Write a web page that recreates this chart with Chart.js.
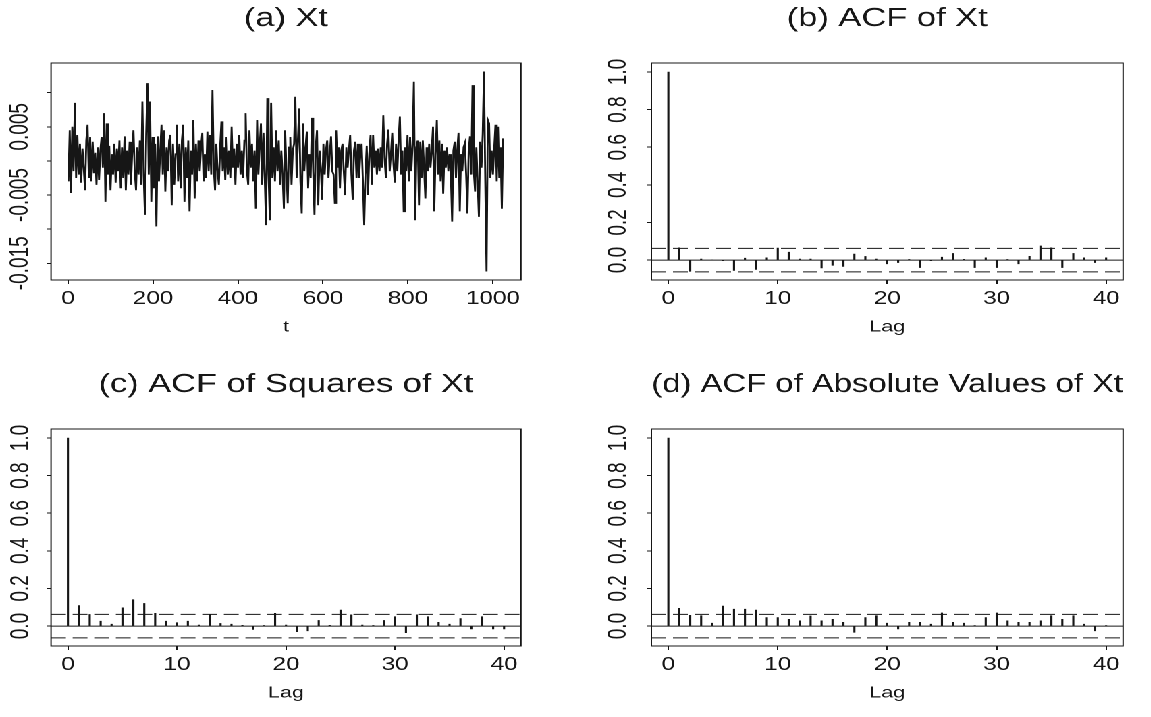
<!DOCTYPE html>
<html>
<head>
<meta charset="utf-8">
<script src="https://cdn.jsdelivr.net/npm/chart.js@4.4.0/dist/chart.umd.min.js"></script>
<style>
  html, body { margin: 0; padding: 0; background: #fff; }
  /* the scanned figure is wider than tall, so the whole page is stretched sideways */
  #page { position: absolute; left: 0; top: 0; width: 853px; height: 717px; transform: scaleX(1.35); transform-origin: 0 0; }
  #page canvas { position: absolute; }
</style>
</head>
<body>
<div id="page">
  <canvas id="pa" width="420" height="350" style="left:0px;top:0px"></canvas>
  <canvas id="pb" width="420" height="350" style="left:430px;top:0px"></canvas>
  <canvas id="pc" width="420" height="350" style="left:0px;top:366px"></canvas>
  <canvas id="pd" width="420" height="350" style="left:430px;top:366px"></canvas>
</div>
<script>
const xtStep = 3;
const xtMilli = [
  -3.0, 4.5, -4.7, 5.0, -1.5, 8.5, -2.5, 3.8, -2.0, 2.5, -3.2, 1.8,
  -1.0, -4.3, 3.0, 5.3, -2.5, 3.5, -3.0, 2.8, -1.8, 1.2, -3.5, 2.0,
  -2.8, 1.5, 3.5, -1.0, 7.0, -6.0, 5.5, -2.0, 2.2, -4.3, 1.0, -2.0,
  2.5, -3.2, 1.8, -1.5, 3.0, -4.0, 2.0, -2.5, 3.6, -4.3, 1.5, -2.0,
  2.8, -3.5, 1.2, 4.5, -1.5, -4.3, 2.0, -2.0, 3.0, -3.5, 8.7, -2.0,
  -7.9, 4.0, 11.4, -2.0, 8.7, -6.0, 3.5, -4.0, 2.5, -9.6, 3.6, -3.0,
  1.5, 5.3, -2.0, 4.5, -4.5, 2.0, -1.5, 3.0, 3.8, -6.5, 2.5, -3.5,
  1.0, 5.3, -3.0, 2.5, -4.0, 3.0, 5.3, -6.0, 2.0, -2.5, 3.0, -7.4,
  1.5, -2.0, 6.0, -5.5, 2.5, -3.0, 3.0, -1.5, 2.0, 4.1, -3.0, 1.0,
  -2.5, 4.3, -1.5, 3.8, -2.0, 10.4, -1.0, -4.3, 2.5, -1.5, -3.5, 2.0,
  5.8, -1.5, 2.0, -2.8, 3.5, -2.0, 1.5, -2.5, 5.0, -1.0, 1.8, -3.5,
  2.5, -1.0, 3.8, -2.0, 1.5, -2.5, 3.0, 7.0, -1.5, -3.5, 4.5, -1.0,
  2.5, -3.0, 1.5, -7.0, 6.0, -2.0, 2.0, 5.5, -3.5, 4.1, -2.5, -9.4,
  9.2, -2.0, -8.7, 8.5, -2.5, 2.0, -3.0, 4.5, -1.5, 3.0, -3.5, 1.5,
  -2.0, -7.0, 4.5, -1.5, -6.2, 2.0, 3.5, -3.5, 1.5, 2.5, 9.4, -2.5,
  3.0, 7.7, -3.0, -7.7, 5.5, -1.5, 2.0, 4.3, -4.0, 1.0, -2.5, 6.3,
  -1.5, -7.9, 2.0, 4.5, -6.5, 1.5, -1.0, -5.7, 2.5, -2.0, 1.5, 3.0,
  -2.5, 1.0, 3.6, -1.5, -2.0, -6.2, 4.5, -1.0, 2.0, -4.0, 1.5, 2.5,
  -1.5, -5.0, 2.0, -1.0, 1.5, 3.8, -2.0, -5.7, 1.5, 2.8, -2.5, 2.5,
  -2.5, 1.0, 2.5, -3.0, -9.4, -2.0, 2.2, -5.0, 1.0, 3.8, -3.5, 3.8,
  -1.0, 1.5, -2.0, 1.8, -1.5, 2.0, -1.0, 6.7, 0.5, -2.5, 2.5, 4.6,
  -1.5, 1.0, 4.1, -0.5, -3.2, 2.5, -1.5, 3.0, 6.5, -2.0, 1.5, -7.4,
  2.0, -1.5, 3.8, -3.0, 3.5, -1.5, 2.5, 11.6, -8.7, 2.0, 3.0, -6.5,
  2.8, -2.5, 3.0, -1.0, -5.5, 2.0, -1.5, 2.5, -1.0, 1.5, 5.0, -7.4,
  1.0, 6.0, -2.0, 3.0, -3.0, 2.5, -4.8, 1.5, -1.0, 2.0, -1.5, 1.0,
  -2.0, -8.9, 1.5, 2.8, -2.5, 1.5, 4.1, -7.4, 1.0, -1.5, 2.0, 2.6,
  -2.0, -7.7, 1.5, 3.6, -2.0, 11.1, -1.5, -4.5, 2.0, -3.0, -8.2, 2.8,
  -1.0, 4.0, 13.1, -3.0, -16.2, 6.0, 5.5, -2.5, 1.5, -2.0, 1.8, 5.3,
  -3.0, 5.0, -2.5, 2.0, -7.0, 3.3
];

// lags 0..40
const lags = [0, 1, 2, 3, 4, 5, 6, 7, 8, 9, 10, 11, 12, 13, 14, 15, 16, 17, 18, 19, 20,
  21, 22, 23, 24, 25, 26, 27, 28, 29, 30, 31, 32, 33, 34, 35, 36, 37, 38, 39, 40];
const acfXt = [1.0, 0.065, -0.06, 0.005, 0.0, -0.003, -0.055, 0.01, -0.05, 0.012, 0.064,
  0.042, 0.005, 0.005, -0.042, -0.028, -0.034, 0.032, 0.019, 0.005, -0.02,
  -0.013, 0.003, -0.04, -0.003, 0.015, 0.035, 0.004, -0.04, 0.012, -0.04,
  0.003, -0.02, 0.02, 0.075, 0.065, -0.04, 0.035, 0.012, -0.013, 0.012];
const acfSq = [1.0, 0.109, 0.062, 0.026, 0.01, 0.097, 0.14, 0.12, 0.068, 0.026, 0.018,
  0.026, 0.005, 0.062, 0.014, 0.01, 0.004, -0.018, 0.003, 0.068, 0.005,
  -0.03, -0.025, 0.03, 0.004, 0.085, 0.06, 0.005, 0.003, 0.03, 0.05,
  -0.035, 0.06, 0.05, 0.02, 0.01, 0.04, -0.015, 0.05, -0.015, -0.015];
const acfAbs = [1.0, 0.094, 0.057, 0.055, 0.015, 0.106, 0.09, 0.09, 0.085, 0.045, 0.045,
  0.036, 0.028, 0.054, 0.028, 0.036, 0.02, -0.033, 0.045, 0.055, 0.015,
  -0.015, 0.02, 0.02, 0.01, 0.07, 0.02, 0.015, 0.002, 0.045, 0.07,
  0.028, 0.02, 0.02, 0.028, 0.055, 0.036, 0.055, 0.01, -0.025, 0.002];
const confBand = 0.0625; // 2/sqrt(1024)

// tick labels
const tTicks = [0, 200, 400, 600, 800, 1000];
const xtTicks = [-0.015, -0.01, -0.005, 0, 0.005, 0.01];
const xtTickLabels = [-0.015, -0.005, 0.005];
const lagTicks = [0, 10, 20, 30, 40];
const acfTicks = [0, 0.2, 0.4, 0.6, 0.8, 1.0];

const ink = '#161616';
Chart.defaults.font.family = '"Liberation Sans", Arial, Helvetica, sans-serif';
Chart.defaults.color = ink;

// box round the plot region
const frame = {
  id: 'frame',
  afterDraw(chart) {
    const { ctx, chartArea: a } = chart;
    ctx.save();
    ctx.strokeStyle = ink;
    ctx.lineWidth = 1;
    ctx.strokeRect(a.left, a.top, a.right - a.left, a.bottom - a.top);
    ctx.restore();
  }
};

function makeOptions(p) {
  return {
    responsive: false,
    devicePixelRatio: 2,
    animation: false,
    layout: { padding: { left: 0, right: p.rightPad, top: 0, bottom: 0 } },
    plugins: {
      legend: { display: false },
      tooltip: { enabled: false },
      title: {
        display: true, text: p.title, color: ink, fullSize: false,
        font: { size: 25.5, weight: 'normal' },
        padding: { top: 3.6, bottom: 28.8 }
      }
    },
    scales: {
      x: {
        type: 'linear', min: p.xMin, max: p.xMax, offset: false,
        afterBuildTicks: s => { s.ticks = p.xTicks.map(v => ({ value: v })); },
        afterFit: s => { s.height = 70; },
        grid: { drawOnChartArea: false, drawTicks: true, tickLength: 4, tickColor: ink, offset: false },
        border: { display: false },
        ticks: { color: ink, font: { size: 18 }, padding: 4, maxRotation: 0, autoSkip: false, callback: v => String(v) },
        title: { display: true, text: p.xTitle, color: ink, font: { size: 16 }, padding: { top: 0, bottom: 13.4 } }
      },
      y: {
        type: 'linear', min: p.yMin, max: p.yMax,
        afterBuildTicks: s => { s.ticks = p.yTicks.map(v => ({ value: v })); },
        afterFit: s => { s.width = p.yWidth; },
        grid: { drawOnChartArea: false, drawTicks: true, tickLength: 3, tickColor: ink },
        border: { display: false },
        ticks: {
          color: ink, font: { size: 19 }, padding: p.yPad, minRotation: 90, maxRotation: 90,
          crossAlign: 'center', autoSkip: false, callback: p.yFmt
        }
      }
    }
  };
}

// (a) the series itself
new Chart(document.getElementById('pa'), {
  type: 'line',
  data: {
    datasets: [{
      data: xtMilli.map((v, i) => ({ x: 1 + i * xtStep, y: v / 1000 })),
      borderColor: ink, borderWidth: 1.4, pointRadius: 0, tension: 0
    }]
  },
  options: makeOptions({
    title: '(a) Xt', xTitle: 't',
    xMin: -40, xMax: 1066, xTicks: tTicks,
    yMin: -0.01745, yMax: 0.01435, yTicks: xtTicks,
    yFmt: v => xtTickLabels.includes(v) ? v.toFixed(3) : '',
    yWidth: 37.8, yPad: -7.5, rightPad: 34.1
  }),
  plugins: [frame]
});

const lagMin = -1.55, lagMax = 41.55;

function acfChart(id, title, values, side) {
  const flat = y => [{ x: lagMin, y: y }, { x: lagMax, y: y }];
  new Chart(document.getElementById(id), {
    type: 'bar',
    data: {
      datasets: [
        { type: 'bar', data: lags.map((l, i) => ({ x: l, y: values[i] })),
          backgroundColor: ink, borderWidth: 0, barThickness: 0.9, grouped: false },
        { type: 'line', data: flat(0), borderColor: ink, borderWidth: 1, pointRadius: 0 },
        { type: 'line', data: flat(confBand), borderColor: ink, borderWidth: 1, borderDash: [11, 5], pointRadius: 0 },
        { type: 'line', data: flat(-confBand), borderColor: ink, borderWidth: 1, borderDash: [11, 5], pointRadius: 0 }
      ]
    },
    options: makeOptions({
      title: title, xTitle: 'Lag',
      xMin: lagMin, xMax: lagMax, xTicks: lagTicks,
      yMin: -0.106, yMax: 1.048, yTicks: acfTicks,
      yFmt: v => v.toFixed(1),
      yWidth: side === 'left' ? 37.8 : 52.5,
      yPad: side === 'left' ? 6.0 : 7.8,
      rightPad: side === 'left' ? 34.1 : 18.1
    }),
    plugins: [frame]
  });
}

acfChart('pb', '(b) ACF of Xt', acfXt, 'right');
acfChart('pc', '(c) ACF of Squares of Xt', acfSq, 'left');
acfChart('pd', '(d) ACF of Absolute Values of Xt', acfAbs, 'right');
</script>
</body>
</html>
